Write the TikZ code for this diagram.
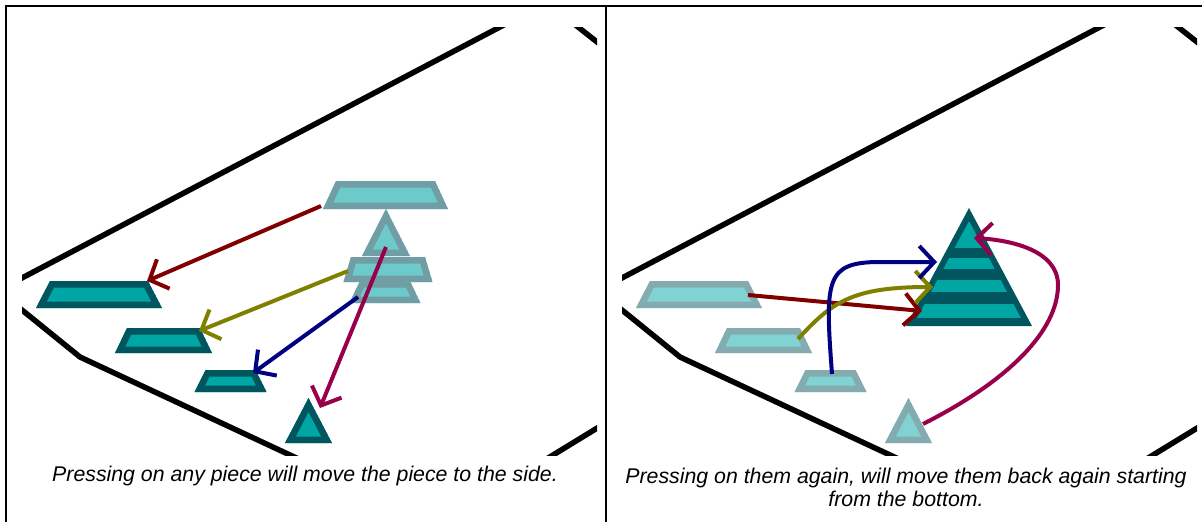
\documentclass[tikz,border=0pt]{standalone}
\usepackage{fontspec}
\setmainfont{Liberation Sans}
\usetikzlibrary{arrows.meta}
\definecolor{darkline}{RGB}{0,85,94}
\definecolor{darkfill}{RGB}{0,166,164}
\definecolor{ghostline}{RGB}{112,158,164}
\definecolor{ghostfill}{RGB}{108,203,202}
\definecolor{fadedline}{RGB}{132,172,176}
\definecolor{fadedfill}{RGB}{128,211,210}
\definecolor{arrowred}{RGB}{128,0,0}
\definecolor{arrowolive}{RGB}{128,128,0}
\definecolor{arrownavy}{RGB}{0,0,128}
\definecolor{arrowplum}{RGB}{153,0,76}
\tikzset{
    frame/.style={line width=2pt},
    board/.style={line width=5.5pt},
    piece/.style={line width=13pt, line join=miter},
    dark/.style={piece, draw=darkline, fill=darkfill},
    ghost/.style={piece, draw=ghostline, fill=ghostfill},
    faded/.style={piece, draw=fadedline, fill=fadedfill},
    move/.style={line width=4pt, -{Straight Barb[length=15pt, width=32pt]}},
    caption/.style={font=\fontsize{21.3}{23.5}\selectfont\itshape, align=center, inner sep=0pt}
}
\begin{document}
\begin{tikzpicture}[x=1pt, y=-1pt]
    \useasboundingbox (0,0) rectangle (1202,522);
    \draw[frame] (6,522) -- (6,6) -- (1202,6);
    \draw[frame] (606,6) -- (606,522);
    \foreach \dx in {0,600} {
        \begin{scope}
            \clip (22+\dx,27) rectangle (597+\dx,455);
            \draw[board] (0+\dx,289.5) -- (520+\dx,16.5);
            \draw[board] (565+\dx,16.7) -- (612+\dx,53.8);
            \draw[board] (10+\dx,300.3) -- (80+\dx,357) -- (290+\dx,455) -- (312+\dx,465.3);
            \draw[board] (540+\dx,463) -- (612+\dx,419);
        \end{scope}
    }
    \foreach \cx/\ty/\by/\tw/\bw in {99/281/308/49/63, 163.5/328/353/36.5/48.5, 230.5/370/392/25/36, 308.5/398/443/0/23.5} {
        \begin{scope}
            \clip (\cx-\tw,\ty) -- (\cx+\tw,\ty) -- (\cx+\bw,\by) -- (\cx-\bw,\by) -- cycle;
            \filldraw[dark] (\cx-\tw,\ty) -- (\cx+\tw,\ty) -- (\cx+\bw,\by) -- (\cx-\bw,\by) -- cycle;
        \end{scope}
    }
    \foreach \cx/\ty/\by/\tw/\bw in {385/281/303/25/35.5, 388/257/282/37/44.5, 386/209/256/0/24, 385.5/181/209/49.5/62.5} {
        \begin{scope}
            \clip (\cx-\tw,\ty) -- (\cx+\tw,\ty) -- (\cx+\bw,\by) -- (\cx-\bw,\by) -- cycle;
            \filldraw[ghost] (\cx-\tw,\ty) -- (\cx+\tw,\ty) -- (\cx+\bw,\by) -- (\cx-\bw,\by) -- cycle;
        \end{scope}
    }
    \foreach \cx/\ty/\by/\tw/\bw in {699/281/308/49/63, 763.5/328/353/36.5/48.5, 830.5/370/392/25/36, 908.5/398/443/0/23.5} {
        \begin{scope}
            \clip (\cx-\tw,\ty) -- (\cx+\tw,\ty) -- (\cx+\bw,\by) -- (\cx-\bw,\by) -- cycle;
            \filldraw[faded] (\cx-\tw,\ty) -- (\cx+\tw,\ty) -- (\cx+\bw,\by) -- (\cx-\bw,\by) -- cycle;
        \end{scope}
    }
    \fill[darkline] (969,208) -- (1032,326) -- (906,326) -- cycle;
    \begin{scope}
        \clip (969,221) -- (1022,320) -- (916,320) -- cycle;
        \foreach \ty/\by in {222/248,258/269,280/292,304/318} {
            \fill[darkfill] (900,\ty) rectangle (1040,\by);
        }
    \end{scope}
    \coordinate (redA) at (321,206);
    \coordinate (redB) at (147,281);
    \coordinate (oliveA) at (348,271);
    \coordinate (oliveB) at (199,331);
    \coordinate (navyA) at (358,297);
    \coordinate (navyB) at (253,373);
    \coordinate (plumA) at (386,247);
    \coordinate (plumB) at (320,408);
    \draw[move, arrowred] (redA) -- (redB);
    \draw[move, arrowolive] (oliveA) -- (oliveB);
    \draw[move, arrownavy] (navyA) -- (navyB);
    \draw[move, arrowplum] (plumA) -- (plumB);
    \coordinate (backredA) at (748,295);
    \coordinate (backredB) at (922,311);
    \coordinate (backoliveA) at (798,339);
    \coordinate (backoliveB) at (933,287);
    \coordinate (backnavyA) at (832,374);
    \coordinate (backnavyB) at (937,262);
    \coordinate (backplumA) at (923,424);
    \coordinate (backplumB) at (974,238);
    \draw[move, arrowred] (backredA) -- (backredB);
    \draw[move, arrowolive] (backoliveA) .. controls (832,302) and (852,287) .. (backoliveB);
    \draw[move, arrownavy] (backnavyA) .. controls (825,280) and (825,262) .. (880,262) -- (backnavyB);
    \draw[move, arrowplum] (backplumA) .. controls (1010,380) and (1058,330) .. (1058,285)
        .. controls (1058,250) and (1010,240) .. (backplumB);
    \node[caption] (leftcap) at (305,476) {Pressing on any piece will move the piece to the side.};
    \node[caption] (rightcap) at (906,487.5) {Pressing on them again, will move them back again starting\\from the bottom.};
\end{tikzpicture}
\end{document}
